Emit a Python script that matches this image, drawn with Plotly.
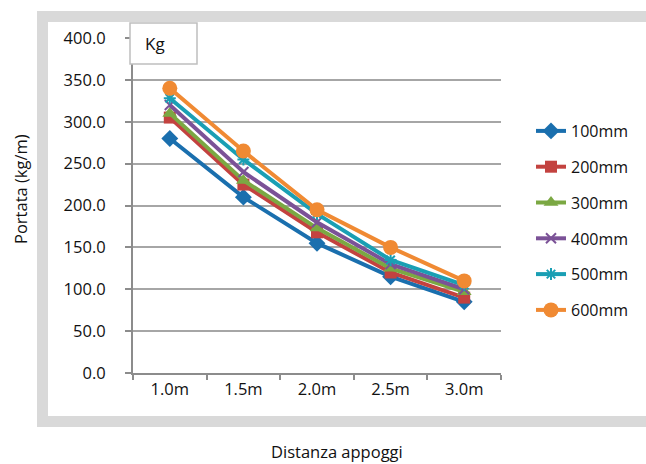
import plotly.graph_objects as go

categories = ["1.0m", "1.5m", "2.0m", "2.5m", "3.0m"]
series_names = ["100mm", "200mm", "300mm", "400mm", "500mm", "600mm"]
v100 = [280, 210, 155, 115, 85]
v200 = [305, 225, 168, 120, 90]
v300 = [310, 230, 173, 125, 97]
v400 = [320, 240, 180, 130, 100]
v500 = [328, 255, 190, 135, 105]
v600 = [340, 265, 195, 150, 110]
series_values = [v100, v200, v300, v400, v500, v600]
y_ticks = [0, 50, 100, 150, 200, 250, 300, 350, 400]
y_ticklabels = ["0.0", "50.0", "100.0", "150.0", "200.0", "250.0", "300.0", "350.0", "400.0"]

colors = ["#1a6fae", "#c3423f", "#7ba843", "#7b5297", "#1a9fb4", "#f08a33"]
symbols = ["diamond", "square", "triangle-up", "x-thin", "asterisk", "circle"]
sizes = [13, 12, 13, 10, 10, 15]

W, H = 646, 464
L, R, T, B = 133, 646 - 501, 38, 464 - 373
PW, PH = W - L - R, H - T - B


def px(x):
    return (x - L) / PW


def py(y):
    return (H - B - y) / PH


FONT = "Open Sans, Noto Sans, sans-serif"
fig = go.Figure()
for name, vals, c, s, sz in zip(series_names, series_values, colors, symbols, sizes):
    thin = s in ("x-thin", "asterisk")
    fig.add_trace(go.Scatter(
        x=categories, y=vals, name=name, mode="lines+markers",
        line=dict(color=c, width=4),
        marker=dict(symbol=s, size=sz, color=c,
                    line=dict(color=c, width=2 if thin else 0)),
        legendgroup=name,
    ))

GRAY = "#d9d9d9"
band = dict(type="rect", xref="paper", yref="paper", line=dict(width=0),
            fillcolor=GRAY, layer="below")
shapes = [
    dict(band, x0=px(37), x1=px(646), y0=py(22), y1=py(11)),
    dict(band, x0=px(37), x1=px(48), y0=py(427), y1=py(11)),
    dict(band, x0=px(37), x1=px(646), y0=py(427), y1=py(416)),
    dict(type="rect", xref="paper", yref="paper",
         x0=px(130), x1=px(197), y0=py(64), y1=py(23),
         line=dict(color="#bfbfbf", width=1.5), fillcolor="white", layer="above"),
]

annotations = [
    dict(text="Kg", xref="paper", yref="paper", x=px(155), y=py(44),
         showarrow=False, font=dict(family=FONT, size=17, color="#111"),
         xanchor="center", yanchor="middle"),
    dict(text="Distanza appoggi", xref="paper", yref="paper", x=px(337), y=py(451),
         showarrow=False, font=dict(family=FONT, size=16.5, color="#111"),
         xanchor="center", yanchor="middle"),
    dict(text="Portata (kg/m)", xref="paper", yref="paper", x=px(20), y=py(189),
         showarrow=False, textangle=-90, font=dict(family=FONT, size=16.5, color="#111"),
         xanchor="center", yanchor="middle"),
]

fig.update_layout(
    width=W, height=H,
    margin=dict(l=L, r=R, t=T, b=B, pad=0),
    paper_bgcolor="white", plot_bgcolor="white",
    font=dict(family=FONT, size=16, color="#111"),
    shapes=shapes, annotations=annotations,
    showlegend=True,
    legend=dict(x=px(531), y=py(114), xanchor="left", yanchor="top",
                font=dict(family=FONT, size=16, color="#111"),
                tracegroupgap=12, bgcolor="rgba(0,0,0,0)"),
    xaxis=dict(
        type="category", showgrid=False, showline=True, linecolor="#8c8c8c", linewidth=2,
        ticks="outside", ticklen=5, tickcolor="#8c8c8c", tickwidth=1.5,
        tickson="boundaries", tickfont=dict(family=FONT, size=16.5, color="#111"),
        range=[-0.5, 4.5], zeroline=False,
    ),
    yaxis=dict(
        range=[0, 400], tickvals=y_ticks, ticktext=y_ticklabels,
        showgrid=True, gridcolor="#a6a6a6", gridwidth=2,
        showline=True, linecolor="#8c8c8c", linewidth=2,
        ticks="outside", ticklen=6, tickcolor="#8c8c8c", tickwidth=1.5,
        tickfont=dict(family=FONT, size=16.5, color="#111"), zeroline=False,
        ticklabelstandoff=16,
    ),
)

fig.write_html(
    "out.html",
    config={"displayModeBar": False},
    post_script="document.body.style.margin='0';document.body.style.overflow='hidden';",
)
